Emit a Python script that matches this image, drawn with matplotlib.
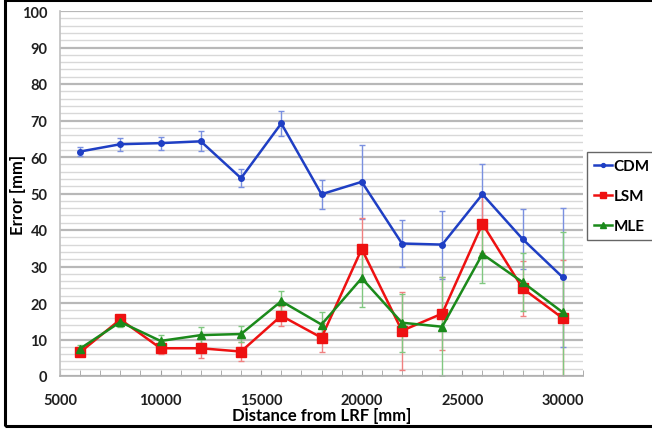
import matplotlib
matplotlib.use("Agg")
import matplotlib.pyplot as plt
from matplotlib.patches import Rectangle
from matplotlib.ticker import MultipleLocator

plt.rcParams['font.family'] = ['Lato', 'DejaVu Sans']

distance = [6000, 8000, 10000, 12000, 14000, 16000, 18000, 20000, 22000, 24000, 26000, 28000, 30000]

cdm = [61.5, 63.5, 63.8, 64.3, 54.2, 69.2, 49.8, 53.2, 36.3, 36.0, 49.8, 37.5, 27.0]
cdm_err = [1.2, 1.8, 1.8, 2.7, 2.5, 3.5, 4.0, 10.2, 6.5, 9.3, 8.2, 8.3, 19.0]

lsm = [6.5, 15.5, 7.6, 7.6, 6.7, 16.5, 10.5, 34.8, 12.4, 17.1, 41.7, 24.0, 15.8]
lsm_err = [1.0, 1.2, 1.5, 2.8, 2.5, 2.7, 4.0, 8.5, 10.7, 10.0, 8.0, 7.5, 16.0]

mle = [7.5, 14.8, 9.6, 11.2, 11.5, 20.5, 14.1, 26.8, 14.6, 13.5, 33.4, 25.7, 17.4]
mle_err = [1.0, 1.5, 1.5, 2.2, 2.3, 2.8, 3.5, 8.0, 8.0, 13.5, 8.0, 8.0, 22.0]

xticks = [5000, 10000, 15000, 20000, 25000, 30000]
yticks = [0, 10, 20, 30, 40, 50, 60, 70, 80, 90, 100]

fig = plt.figure(figsize=(6.52, 4.31), dpi=100)
ax = fig.add_axes([60/652, 1-377/431, (583-60)/652, (377-12)/431])

# outer frame
fig.patches.append(Rectangle((5/652, 4/431), 1.2, 1-5/431, transform=fig.transFigure,
                             fill=False, edgecolor='black', linewidth=2.2, zorder=0))

ax.set_xlim(5000, 31000)
ax.set_ylim(0, 100)
ax.yaxis.set_minor_locator(MultipleLocator(2))
ax.set_yticks(yticks)
ax.grid(axis='y', which='major', color='#b8b8b8', linewidth=1.6)
ax.grid(axis='y', which='minor', color='#d8d8d8', linewidth=1.0)
ax.set_axisbelow(True)

series = [
    ("CDM", cdm, cdm_err, '#1f3fc4', '#7a90e0', 'o', 4),
    ("LSM", lsm, lsm_err, '#ee1111', '#f08080', 's', 7),
    ("MLE", mle, mle_err, '#1b8a1b', '#80c880', '^', 6),
]
for name, vals, err, col, ecol, mk, ms in series:
    ax.errorbar(distance, vals, yerr=err, fmt='none', ecolor=ecol, elinewidth=1.0,
                capsize=2, capthick=1.0, zorder=2)
    ax.plot(distance, vals, color=col, linewidth=1.8, marker=mk, markersize=ms,
            label=name, zorder=3)

for s in ['top', 'right']:
    ax.spines[s].set_visible(False)
ax.spines['left'].set_color('#c0c0c0')
ax.spines['bottom'].set_color('#b0b0b0')
ax.spines['left'].set_linewidth(1.2)
ax.spines['bottom'].set_linewidth(1.2)

ax.set_xticks(xticks)
ax.xaxis.set_minor_locator(MultipleLocator(1000))
ax.tick_params(axis='x', which='both', direction='in', length=4, color='#a0a0a0', pad=12)
ax.tick_params(axis='y', which='both', length=0, pad=9)
for lab in ax.get_xticklabels() + ax.get_yticklabels():
    lab.set_fontweight('bold')
    lab.set_fontsize(10.5)
    lab.set_color('#202020')

ax.set_xlabel("Distance from LRF [mm]", fontsize=12, fontweight='bold')
ax.xaxis.set_label_coords(0.5, (377-416)/365)
ax.xaxis.label.set_va('center')
ax.set_ylabel("Error [mm]", fontsize=12, fontweight='bold')
ax.yaxis.set_label_coords((18-60)/523, 0.5)
ax.yaxis.label.set_va('center')

leg = ax.legend(loc='upper left', bbox_to_anchor=(587/652, 1-153/431), bbox_transform=fig.transFigure,
                frameon=True, fancybox=False, edgecolor='#404040',
                prop={'weight': 'bold', 'size': 11}, handlelength=1.2, handletextpad=0.1,
                labelspacing=1.05, borderpad=0.45, borderaxespad=0, markerscale=0.7)
leg.get_frame().set_linewidth(1.0)

fig.savefig("out.png", dpi=100)
